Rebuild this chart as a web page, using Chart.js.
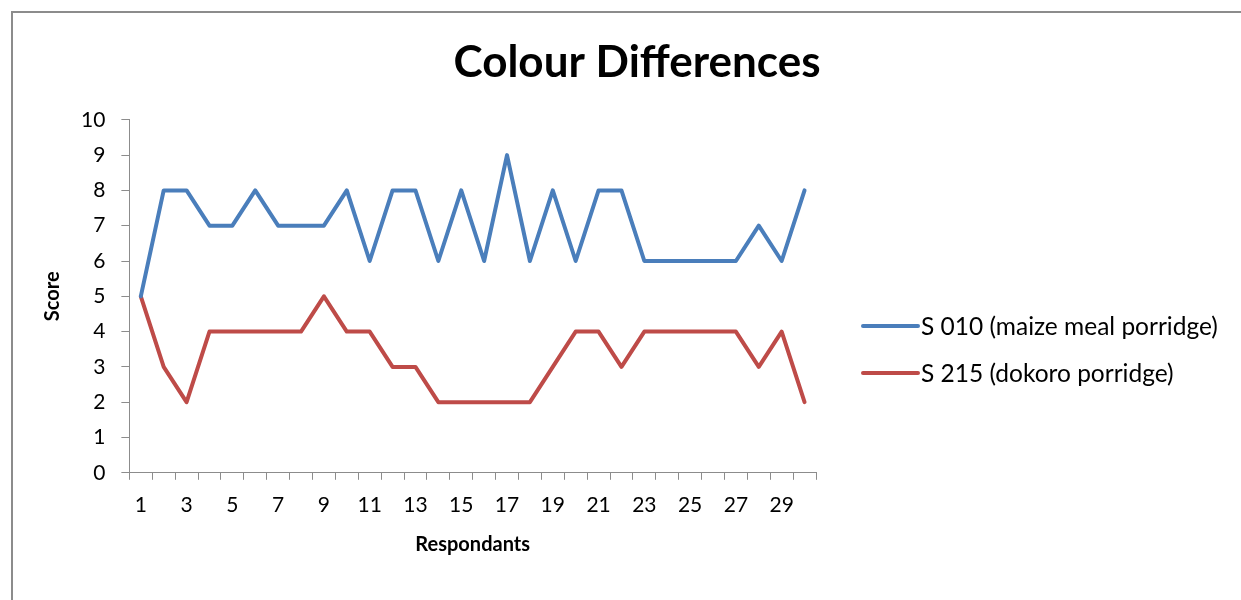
<!DOCTYPE html>
<html>
<head>
<meta charset="utf-8">
<script src="https://cdn.jsdelivr.net/npm/chart.js@4/dist/chart.umd.min.js"></script>
<style>
  html, body { margin: 0; padding: 0; background: #fff; overflow: hidden; }
  #wrap { position: relative; width: 1241px; height: 600px; }
  #frame { position: absolute; left: 11px; top: 11px; width: 1400px; height: 800px; border: 2px solid #8c8c8c; box-sizing: border-box; }
  canvas { position: absolute; left: 0; top: 0; }
</style>
</head>
<body>
<div id="wrap">
  <div id="frame"></div>
  <canvas id="c" width="1241" height="600"></canvas>
</div>
<script>
const respondents = Array.from({length: 30}, (_, i) => String(i + 1));
const maizeMeal = [5, 8, 8, 7, 7, 8, 7, 7, 7, 8, 6, 8, 8, 6, 8, 6, 9, 6, 8, 6, 8, 8, 6, 6, 6, 6, 6, 7, 6, 8];
const dokoro    = [5, 3, 2, 4, 4, 4, 4, 4, 5, 4, 4, 3, 3, 2, 2, 2, 2, 2, 3, 4, 4, 3, 4, 4, 4, 4, 4, 3, 4, 2];
const seriesNames = ['S 010 (maize meal porridge)', 'S 215 (dokoro porridge)'];
const titleText = 'Colour Differences';
const xTitle = 'Respondants';
const yTitle = 'Score';

const FONT = 'Lato, "Open Sans", sans-serif';
const blue = '#4A7EBB';
const red = '#BE4B48';

// Legend drawn on the right, Excel-style (line sample + label)
const sideLegend = {
  id: 'sideLegend',
  afterDraw(chart) {
    const ctx = chart.ctx;
    const x0 = 863, lineLen = 55, gap = 3, yMid = 349.5, step = 47;
    const ds = chart.data.datasets;
    ctx.save();
    ctx.font = '24.5px ' + FONT;
    ctx.textBaseline = 'middle';
    ctx.textAlign = 'left';
    ds.forEach((d, i) => {
      const y = yMid + (i - (ds.length - 1) / 2) * step;
      ctx.strokeStyle = d.borderColor;
      ctx.lineWidth = 4;
      ctx.lineCap = 'round';
      ctx.beginPath();
      ctx.moveTo(x0, y);
      ctx.lineTo(x0 + lineLen, y);
      ctx.stroke();
      ctx.fillStyle = '#000';
      ctx.fillText(d.label, x0 + lineLen + gap, y + 1);
    });
    ctx.restore();
  }
};

new Chart(document.getElementById('c'), {
  type: 'line',
  data: {
    labels: respondents,
    datasets: [
      { label: seriesNames[0], data: maizeMeal, borderColor: blue, backgroundColor: blue, borderWidth: 4, pointRadius: 0, tension: 0, borderJoinStyle: 'round', borderCapStyle: 'round' },
      { label: seriesNames[1], data: dokoro, borderColor: red, backgroundColor: red, borderWidth: 4, pointRadius: 0, tension: 0, borderJoinStyle: 'round', borderCapStyle: 'round' }
    ]
  },
  plugins: [sideLegend],
  options: {
    responsive: false,
    animation: false,
    layout: { padding: { left: 41, right: 8, top: 0, bottom: 43 } },
    plugins: {
      title: {
        display: true, text: titleText, color: '#000',
        font: { family: FONT, size: 44, weight: 'bold' },
        padding: { top: 36, bottom: 31 }
      },
      legend: { display: false },
      tooltip: { enabled: false }
    },
    scales: {
      x: {
        offset: true,
        grid: { display: true, offset: true, drawOnChartArea: false, drawTicks: true, tickLength: 7, color: '#8c8c8c', lineWidth: 1 },
        border: { display: true, color: '#8c8c8c', width: 1 },
        ticks: {
          autoSkip: false, maxRotation: 0, color: '#000', padding: 13,
          font: { family: FONT, size: 21 },
          callback: function (v, i) { return i % 2 === 0 ? this.getLabelForValue(v) : ''; }
        },
        title: { display: true, text: xTitle, color: '#000', font: { family: FONT, size: 20, weight: 'bold' }, padding: { top: 2, bottom: 0 } }
      },
      y: {
        min: 0, max: 10,
        grid: { display: true, drawOnChartArea: false, drawTicks: true, tickLength: 8, color: '#8c8c8c' },
        border: { display: true, color: '#8c8c8c', width: 1 },
        ticks: { stepSize: 1, color: '#000', padding: 16, font: { family: FONT, size: 21 } },
        title: { display: true, text: yTitle, color: '#000', font: { family: FONT, size: 20, weight: 'bold' }, padding: { top: 0, bottom: 0 } }
      },
      legendSpace: {
        type: 'linear', position: 'right', display: true,
        grid: { display: false, drawTicks: false },
        border: { display: false },
        ticks: { display: false },
        title: { display: false },
        afterFit(scale) { scale.width = 417; }
      }
    }
  }
});
</script>
</body>
</html>
